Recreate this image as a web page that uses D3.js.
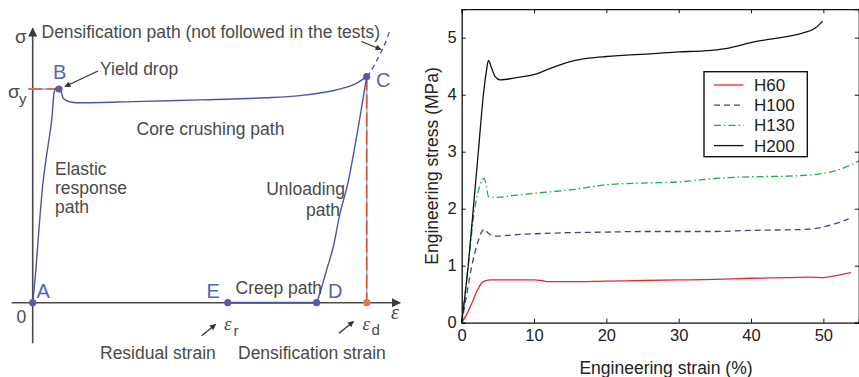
<!DOCTYPE html>
<html><head><meta charset="utf-8">
<script src="https://cdn.jsdelivr.net/npm/d3@7"></script>
<style>
html,body{margin:0;padding:0;background:#fff;}
svg{display:block;font-family:"Liberation Sans",Arial,Helvetica,sans-serif;}
</style></head>
<body>
<svg id="c" width="859" height="377"></svg>
<script>
// ---------- Right panel data (engineering strain %, stress MPa) ----------
const h60Strain  = [0,0.7,1.4,2.2,2.8,3.3,4,6,8,10,11,12,15,20,25,30,35,40,45,48,50,51,53.8];
const h60Stress  = [0,0.15,0.34,0.58,0.7,0.74,0.75,0.75,0.75,0.75,0.74,0.72,0.72,0.73,0.74,0.75,0.76,0.78,0.79,0.8,0.79,0.81,0.88];
const h100Strain = [0,0.7,1.4,2.2,2.7,3.1,3.6,4.4,5,7,10,15,20,25,30,35,40,45,48,50,52,53.5];
const h100Stress = [0,0.5,1.0,1.4,1.58,1.64,1.58,1.52,1.52,1.54,1.56,1.58,1.59,1.6,1.6,1.6,1.62,1.63,1.64,1.68,1.75,1.82];
const h130Strain = [0,0.9,1.8,2.5,3.1,3.4,3.7,5,7,10,15,20,25,30,35,40,45,50,52,54,54.9];
const h130Stress = [0,1.0,2.0,2.4,2.53,2.4,2.21,2.2,2.23,2.27,2.33,2.42,2.45,2.47,2.53,2.56,2.57,2.62,2.68,2.78,2.84];
const h200Strain = [0,0.9,1.6,2.3,3.0,3.4,3.7,4.1,4.6,5.3,7.2,9.1,10.2,12,15,17.6,20,26.5,30,33.5,36.5,40.6,43.4,47.1,48.9,49.9];
const h200Stress = [0,1.0,2.0,3.0,4.0,4.4,4.6,4.48,4.32,4.26,4.29,4.33,4.36,4.45,4.58,4.64,4.67,4.72,4.75,4.77,4.81,4.93,4.99,5.08,5.17,5.29];
const seriesNames = ["H60","H100","H130","H200"];
const xTicks = [0,10,20,30,40,50];
const yTicks = [0,1,2,3,4,5];

// ---------- Left panel schematic data (normalised strain, stress) ----------
const loadStrain   = [0,0.0069,0.0317,0.0569,0.0617,0.0647,0.0698,0.0757,0.0787,0.0868,0.0916,0.1018,0.1216,0.1617,0.300,0.501,0.701,0.800,0.899,0.959,1.0];
const loadStress   = [0,0.106,0.574,0.855,0.949,0.988,1.004,1.005,1.0,0.980,0.956,0.945,0.937,0.936,0.941,0.949,0.959,0.969,0.992,1.019,1.058];
const unloadStrain = [1.0,0.968,0.9425,0.920,0.900,0.880,0.860,0.850];
const unloadStress = [1.058,0.761,0.551,0.418,0.262,0.153,0.044,0];
const densStrain   = [1.0,1.0129,1.0338,1.0518,1.068];
const densStress   = [1.058,1.084,1.145,1.201,1.267];
const pointNames   = ["A","B","C","D","E"];
const pointStrain  = [0,0.0787,1.0,0.850,0.584];
const pointStress  = [0,1.0,1.058,0,0];
const residualStrain = 0.584, densificationStrain = 1.0, yieldStress = 1.0;

const svg = d3.select("#c");
const TXT = "#4a4a4a";
const FS = 17.5;

// ================= LEFT PANEL =================
const xs = d3.scaleLinear().domain([0,1]).range([32.7,366.7]);
const ys = d3.scaleLinear().domain([0,1]).range([302.7,89]);
const L = svg.append("g");
const defs = svg.append("defs");
function marker(id,color,w,h){
  defs.append("marker").attr("id",id).attr("viewBox","0 0 10 10").attr("refX",9).attr("refY",5)
   .attr("markerWidth",w).attr("markerHeight",h).attr("markerUnits","userSpaceOnUse").attr("orient","auto")
   .append("path").attr("d","M0,0L10,5L0,10z").attr("fill",color);
}
marker("ax","#3a3a3a",11,9);
marker("ar","#333",8,6);

// axes
L.append("line").attr("x1",xs(0)).attr("x2",xs(0)).attr("y1",ys(-0.19)).attr("y2",ys(1.284))
 .attr("stroke","#4a4a4a").attr("stroke-width",1.6).attr("marker-end","url(#ax)");
L.append("line").attr("x1",xs(-0.063)).attr("x2",xs(1.1)).attr("y1",ys(0)).attr("y2",ys(0))
 .attr("stroke","#4a4a4a").attr("stroke-width",1.6).attr("marker-end","url(#ax)");

// reference dashed lines
function dashedRef(x1,y1,x2,y2){
  L.append("line").attr("x1",x1).attr("y1",y1).attr("x2",x2).attr("y2",y2).attr("stroke","#a3aad8").attr("stroke-width",1.6);
  L.append("line").attr("x1",x1).attr("y1",y1).attr("x2",x2).attr("y2",y2).attr("stroke","#d9573d").attr("stroke-width",1.6).attr("stroke-dasharray","14,4");
}
dashedRef(xs(-0.013),ys(yieldStress),xs(pointStrain[1]),ys(yieldStress));
dashedRef(xs(densificationStrain),ys(pointStress[2]),xs(densificationStrain),ys(0));

const lineS = d3.line().x(d=>xs(d[0])).y(d=>ys(d[1])).curve(d3.curveCatmullRom.alpha(0.5));
L.append("path").attr("d",lineS(d3.zip(loadStrain,loadStress))).attr("fill","none").attr("stroke","#4b55a5").attr("stroke-width",1.4);
L.append("path").attr("d",lineS(d3.zip(unloadStrain,unloadStress))).attr("fill","none").attr("stroke","#4b55a5").attr("stroke-width",1.4);
L.append("path").attr("d",lineS(d3.zip(densStrain,densStress))).attr("fill","none").attr("stroke","#4b55a5").attr("stroke-width",1.4).attr("stroke-dasharray","5,4");
// creep path
L.append("line").attr("x1",xs(residualStrain)).attr("x2",xs(pointStrain[3])).attr("y1",ys(0)).attr("y2",ys(0)).attr("stroke","#4b55a5").attr("stroke-width",2);

// points
pointNames.forEach((n,i)=>{
  L.append("circle").attr("cx",xs(pointStrain[i])).attr("cy",ys(pointStress[i])).attr("r",3.6).attr("fill","#5a5aa8");
});
L.append("circle").attr("cx",xs(densificationStrain)).attr("cy",ys(0)).attr("r",3.6).attr("fill","#e8734f");

// arrows
function arrow(x1,y1,x2,y2){
  L.append("line").attr("x1",x1).attr("y1",y1).attr("x2",x2).attr("y2",y2).attr("stroke","#333").attr("stroke-width",1.3).attr("marker-end","url(#ar)");
}
arrow(98,71,65,86.5);
arrow(361.5,41.5,381,49.5);
arrow(201.7,335.7,215.5,324.5);
arrow(339,333.3,353.5,321.5);

// texts
function t(x,y,s,opt={}){
  const e=L.append("text").attr("x",x).attr("y",y).text(s).attr("fill",opt.fill||TXT)
    .attr("font-size",opt.fs||FS);
  if(opt.anchor) e.attr("text-anchor",opt.anchor);
  if(opt.family) e.attr("font-family",opt.family);
  if(opt.style) e.attr("font-style",opt.style);
  return e;
}
const BL="#5364b4";
t(15,43,"σ",{fs:19});
t(41.5,37.7,"Densification path (not followed in the tests)");
t(53,78.5,"B",{fill:BL,fs:20});
t(100,75,"Yield drop");
t(376,87,"C",{fill:BL,fs:20});
t(8,98,"σ",{fs:19});
t(19,104,"y",{fs:15});
t(136.5,135,"Core crushing path");
t(55,175,"Elastic");
t(55,194,"response");
t(55,213,"path");
t(345,195,"Unloading",{anchor:"end"});
t(340,215.5,"path",{anchor:"end"});
t(36.5,297.5,"A",{fill:BL,fs:20});
t(206.5,297.5,"E",{fill:BL,fs:20});
t(235.5,294,"Creep path");
t(328,297.5,"D",{fill:BL,fs:20});
t(16.5,322.5,"0");
t(391,318.5,"ε",{fs:20,family:"'Liberation Serif','DejaVu Serif',serif",style:"italic"});
t(224,330,"ε",{fs:19,family:"'Liberation Serif','DejaVu Serif',serif",style:"italic"});
t(233.5,335.5,"r",{fs:15});
t(362.5,330,"ε",{fs:19,family:"'Liberation Serif','DejaVu Serif',serif",style:"italic"});
t(371.5,335,"d",{fs:15});
t(100,358.5,"Residual strain");
t(238,358.5,"Densification strain");

// ================= RIGHT PANEL =================
const x = d3.scaleLinear().domain([0,54.9]).range([461.7,858.8]);
const y = d3.scaleLinear().domain([0,5.5]).range([322.7,9.2]);
const R = svg.append("g");

const series = [
  {name:seriesNames[0],sx:h60Strain,sy:h60Stress,color:"#e8282b",dash:null},
  {name:seriesNames[1],sx:h100Strain,sy:h100Stress,color:"#3c3f9c",dash:"6,4"},
  {name:seriesNames[2],sx:h130Strain,sy:h130Stress,color:"#1dad4e",dash:"7,3,1.5,3"},
  {name:seriesNames[3],sx:h200Strain,sy:h200Stress,color:"#111",dash:null}
];
const line = d3.line().x(d=>x(d[0])).y(d=>y(d[1])).curve(d3.curveMonotoneX);
series.forEach(s=>{
  const p=R.append("path").attr("d",line(d3.zip(s.sx,s.sy))).attr("fill","none")
   .attr("stroke",s.color).attr("stroke-width",1.3);
  if(s.dash) p.attr("stroke-dasharray",s.dash);
});

const axFont = 16.5;
const gB = R.append("g").attr("transform",`translate(0,${y(0)})`)
  .call(d3.axisBottom(x).tickValues(xTicks).tickSize(-4).tickPadding(6.5).tickFormat(d3.format("d")));
const gL = R.append("g").attr("transform",`translate(${x(0)},0)`)
  .call(d3.axisLeft(y).tickValues(yTicks).tickSize(-4).tickPadding(5).tickFormat(d3.format("d")));
const gT = R.append("g").attr("transform",`translate(0,${y(5.5)})`)
  .call(d3.axisTop(x).tickValues(xTicks).tickSize(-4).tickFormat(""));
const gR = R.append("g").attr("transform",`translate(${x(54.9)},0)`)
  .call(d3.axisRight(y).tickValues(yTicks).tickSize(-4).tickFormat(""));
[gB,gL,gT,gR].forEach(g=>{
  g.selectAll("path.domain").attr("stroke","#111").attr("stroke-width",1.3);
  g.selectAll(".tick line").attr("stroke","#111").attr("stroke-width",1);
  g.selectAll("text").attr("font-size",axFont).attr("fill","#222")
    .attr("font-family","'Liberation Sans',Arial,sans-serif");
});

R.append("text").attr("x",666).attr("y",373.5).attr("text-anchor","middle")
 .attr("font-size",FS).attr("fill","#222").text("Engineering strain (%)");
R.append("text").attr("transform",`translate(437.5,${(y(0)+y(5.5))/2}) rotate(-90)`)
 .attr("text-anchor","middle").attr("font-size",FS).attr("fill","#222").text("Engineering stress (MPa)");

// legend
const lg = R.append("g").attr("transform","translate(704,71.7)");
lg.append("rect").attr("width",103.3).attr("height",85).attr("fill","#fff").attr("stroke","#111").attr("stroke-width",1.4);
series.forEach((s,i)=>{
  const yy = 13.3 + i*20.2;
  const l = lg.append("line").attr("x1",10).attr("x2",39.5).attr("y1",yy).attr("y2",yy)
    .attr("stroke",s.color).attr("stroke-width",1.3);
  if(s.dash) l.attr("stroke-dasharray",s.dash);
  lg.append("text").attr("x",50).attr("y",yy).attr("dy","0.35em").attr("font-size",17).attr("fill","#222").text(s.name);
});
</script>
</body></html>
